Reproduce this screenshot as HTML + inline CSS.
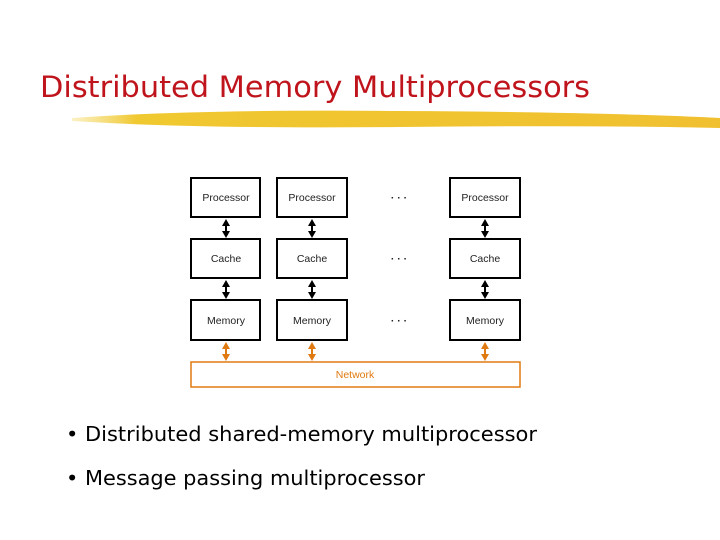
<!DOCTYPE html>
<html><head><style>
body{margin:0;width:720px;height:540px;background:#fff;overflow:hidden}
svg{display:block}
</style></head><body>
<svg width="720" height="540" xmlns="http://www.w3.org/2000/svg">
<defs>
<linearGradient id="g" x1="0" x2="1"><stop offset="0" stop-color="#f2d040" stop-opacity="0.3"/><stop offset="0.1" stop-color="#f0c830"/><stop offset="1" stop-color="#f0c030"/></linearGradient>
</defs>
<text x="40" y="97" font-family="'DejaVu Sans',sans-serif" font-size="29" fill="#c0141c" textLength="550" lengthAdjust="spacingAndGlyphs">Distributed Memory Multiprocessors</text>
<path d="M72,118 Q200,109 400,111 Q600,112 720,118 L720,128 Q600,125 400,127 Q200,129 72,121z" fill="url(#g)"/>
<g font-family="'Liberation Sans',sans-serif" font-size="10.5" fill="#222" text-anchor="middle">
<g fill="none" stroke="#000" stroke-width="2">
<rect x="191" y="178" width="69" height="39"/><rect x="277" y="178" width="70" height="39"/><rect x="450" y="178" width="70" height="39"/>
<rect x="191" y="239" width="69" height="39"/><rect x="277" y="239" width="70" height="39"/><rect x="450" y="239" width="70" height="39"/>
<rect x="191" y="300" width="69" height="40"/><rect x="277" y="300" width="70" height="40"/><rect x="450" y="300" width="70" height="40"/>
<path d="M226,222V234M312,222V234M485,222V234M226,283V295M312,283V295M485,283V295"/>
</g>
<g fill="#000">
<path d="M222,226L226,219L230,226zM222,231L226,238L230,231zM308,226L312,219L316,226zM308,231L312,238L316,231zM481,226L485,219L489,226zM481,231L485,238L489,231z"/>
<path d="M222,287L226,280L230,287zM222,292L226,299L230,292zM308,287L312,280L316,287zM308,292L312,299L316,292zM481,287L485,280L489,287zM481,292L485,299L489,292z"/>
</g>
<rect x="191" y="362" width="329" height="25" fill="none" stroke="#e07a10" stroke-width="1.5"/>
<path d="M226,345V357M312,345V357M485,345V357" stroke="#e07a10" stroke-width="2"/>
<path fill="#e07a10" d="M222,349L226,342L230,349zM222,354L226,361L230,354zM308,349L312,342L316,349zM308,354L312,361L316,354zM481,349L485,342L489,349zM481,354L485,361L489,354z"/>
<text x="226" y="201">Processor</text><text x="312" y="201">Processor</text><text x="485" y="201">Processor</text>
<text x="226" y="262">Cache</text><text x="312" y="262">Cache</text><text x="485" y="262">Cache</text>
<text x="226" y="324">Memory</text><text x="312" y="324">Memory</text><text x="485" y="324">Memory</text>
<text x="399" y="201" font-weight="bold">· · ·</text><text x="399" y="262" font-weight="bold">· · ·</text><text x="399" y="324" font-weight="bold">· · ·</text>
<text x="355" y="378" fill="#e07a10">Network</text>
</g>
<g font-family="'DejaVu Sans','Liberation Sans',sans-serif" font-size="20" fill="#000">
<text x="66" y="441" textLength="471" lengthAdjust="spacingAndGlyphs">• Distributed shared-memory multiprocessor</text>
<text x="66" y="485" textLength="359" lengthAdjust="spacingAndGlyphs">• Message passing multiprocessor</text>
</g>
</svg>
</body></html>
